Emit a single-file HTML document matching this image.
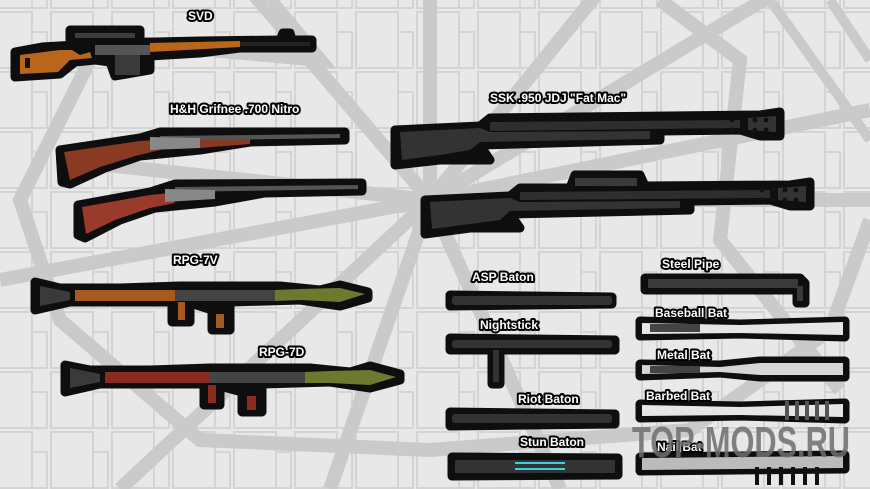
<!DOCTYPE html><html><head><meta charset="utf-8"><style>
html,body{margin:0;padding:0;background:#e8e8e8}
svg{display:block}
text{font-family:"Liberation Sans","DejaVu Sans",sans-serif;font-weight:bold;font-size:12px;fill:#fff;stroke:#000;stroke-width:4px;paint-order:stroke;stroke-linejoin:round}
.o{stroke:#0e0e0e;stroke-width:9;stroke-linejoin:round;stroke-linecap:round}
</style></head><body>
<svg width="870" height="489" viewBox="0 0 870 489" xmlns="http://www.w3.org/2000/svg">
<defs>
<pattern id="mz" width="61" height="60" patternUnits="userSpaceOnUse" x="-12" y="10">
<path d="M2 2h42v20h15v36H2z M44 22v36" fill="none" stroke="#d4d4d4" stroke-width="2"/>
</pattern>
</defs>
<rect width="870" height="489" fill="#e8e8e8"/>
<rect width="870" height="489" fill="url(#mz)"/>
<g stroke="#cacaca" stroke-width="14" fill="none">
<path d="M430 200 L430 -10 M430 200 L250 -10 M430 200 L60 160 M430 200 L0 280 M430 200 L120 489 M430 200 L330 489 M430 200 L560 489 M430 200 L870 200 M430 200 L870 110 M430 200 L780 -10 M430 200 L600 -10"/>
<path d="M270 0 L320 60 L100 40 L20 200 L60 320 L200 440 L430 450 L690 430 L830 330 L870 220 M660 0 L740 60 L720 240 L840 390"/>
</g>
<g stroke="#cacaca" stroke-width="10" fill="none"><path d="M770 0 L870 140 M830 0 L870 60"/></g>

<!-- SVD -->
<g>
<path class="o" d="M15 52 L42 47 L110 43 L155 42 L200 41 L280 40 L283 33 L290 33 L292 40 L312 40 L312 48 L240 48 L200 53 L150 56 L150 70 L115 76 L110 62 L95 60 L75 62 L60 74 L15 77 Z M70 30 L140 30 L140 40 L70 40Z" fill="#0e0e0e"/>
<path d="M20 55 L60 50 L72 50 L80 55 L90 52 L92 58 L70 60 L58 72 L20 74 Z" fill="#b9661c"/>
<rect x="25" y="58" width="5" height="10" fill="#111"/>
<path d="M150 43 L240 41 L240 47 L150 52 Z" fill="#b9661c"/>
<rect x="95" y="45" width="55" height="10" fill="#555"/>
<rect x="115" y="55" width="25" height="20" fill="#3a3a3a"/>
<rect x="75" y="33" width="60" height="5" fill="#3d3d3d"/>
<rect x="240" y="42" width="70" height="4" fill="#222"/>
</g>

<!-- H&H double rifles -->
<g>
<path class="o" d="M60 150 L140 138 L160 132 L345 132 L345 140 L250 142 L200 150 L140 156 L105 168 L70 184 L62 182 Z" fill="#0e0e0e"/>
<path d="M64 152 L140 141 L155 140 L160 150 L135 156 L100 167 L70 180 Z" fill="#8a3a22"/>
<path d="M160 136 L340 134 L340 138 L160 141 Z" fill="#555"/>
<path d="M150 137 L200 138 L200 148 L150 150Z" fill="#888"/>
<path d="M200 140 L250 139 L250 144 L200 148 Z" fill="#8a3a22"/>
<path class="o" d="M78 205 L150 192 L175 184 L362 183 L362 191 L265 193 L215 202 L155 208 L120 220 L85 238 L78 235 Z" fill="#0e0e0e"/>
<path d="M82 207 L150 195 L170 193 L175 203 L150 208 L115 220 L86 234 Z" fill="#9a3a2a"/>
<path d="M175 187 L358 185 L358 189 L175 192 Z" fill="#555"/>
<path d="M165 189 L215 190 L215 199 L165 202Z" fill="#888"/>
</g>

<!-- Fat Mac -->
<g>
<path class="o" d="M395 130 L480 126 L490 118 L760 115 L780 112 L780 136 L760 136 L740 130 L660 131 L660 140 L480 145 L490 160 L440 160 L395 165 Z" fill="#0e0e0e"/>
<path d="M400 132 L480 128 L490 132 L650 131 L650 139 L480 142 L470 150 L440 155 L402 160 Z" fill="#333"/>
<path d="M490 122 L740 120 L740 128 L490 131 Z" fill="#2e2e2e"/>
<path d="M748 118 L776 116 L776 132 L748 130 Z" fill="#333"/>
<g fill="#111"><circle cx="732" cy="120" r="2.5"/><circle cx="744" cy="120" r="2.5"/><circle cx="755" cy="120" r="2.5"/><circle cx="766" cy="120" r="2.5"/><circle cx="732" cy="130" r="2.5"/><circle cx="744" cy="130" r="2.5"/><circle cx="755" cy="130" r="2.5"/><circle cx="766" cy="130" r="2.5"/></g>
<path class="o" d="M425 200 L510 196 L520 188 L570 188 L575 175 L640 175 L645 186 L790 185 L810 182 L810 206 L790 206 L770 200 L690 201 L690 210 L510 214 L520 228 L470 228 L425 234 Z" fill="#0e0e0e"/>
<path d="M430 202 L510 198 L520 202 L680 201 L680 208 L510 211 L500 220 L470 224 L432 229 Z" fill="#333"/>
<path d="M520 192 L770 190 L770 198 L520 200 Z" fill="#2e2e2e"/>
<rect x="575" y="178" width="62" height="8" fill="#3a3a3a"/>
<path d="M778 188 L806 186 L806 202 L778 200 Z" fill="#333"/>
<g fill="#111"><circle cx="762" cy="190" r="2.5"/><circle cx="774" cy="190" r="2.5"/><circle cx="785" cy="190" r="2.5"/><circle cx="796" cy="190" r="2.5"/><circle cx="762" cy="200" r="2.5"/><circle cx="774" cy="200" r="2.5"/><circle cx="785" cy="200" r="2.5"/><circle cx="796" cy="200" r="2.5"/></g>
</g>

<!-- RPG-7V -->
<g>
<path class="o" d="M35 282 L60 288 L120 288 L180 286 L280 286 L320 290 L340 285 L368 292 L368 298 L340 306 L300 300 L230 302 L230 330 L212 330 L212 310 L190 303 L190 322 L172 322 L172 302 L70 302 L35 310 Z" fill="#0e0e0e"/>
<path d="M40 286 L70 292 L70 300 L40 306Z" fill="#3a3a3a"/>
<rect x="75" y="290" width="100" height="11" fill="#a55a22"/>
<rect x="175" y="290" width="100" height="11" fill="#444"/>
<path d="M275 290 L300 289 L340 288 L365 294 L340 302 L300 300 L275 301Z" fill="#6b7a2f"/>
<rect x="178" y="302" width="7" height="18" fill="#a55a22"/>
<rect x="216" y="314" width="8" height="14" fill="#a55a22"/>
</g>
<!-- RPG-7D -->
<g>
<path class="o" d="M65 365 L90 370 L150 370 L210 368 L310 368 L350 372 L370 366 L400 374 L400 380 L370 388 L330 382 L262 384 L262 412 L242 412 L242 392 L220 386 L220 405 L204 405 L204 384 L100 384 L65 392 Z" fill="#0e0e0e"/>
<path d="M70 368 L100 374 L100 382 L70 388Z" fill="#3a3a3a"/>
<rect x="105" y="372" width="105" height="11" fill="#8a2a20"/>
<rect x="210" y="372" width="95" height="11" fill="#444"/>
<path d="M305 372 L330 371 L370 370 L396 377 L370 385 L330 383 L305 383Z" fill="#6b7a2f"/>
<rect x="208" y="385" width="8" height="18" fill="#8a2a20"/>
<rect x="247" y="396" width="9" height="14" fill="#8a2a20"/>
</g>

<!-- Batons -->
<g>
<path class="o" d="M450 295 L612 297 L612 304 L450 306Z" fill="#0e0e0e"/>
<rect x="452" y="296" width="160" height="9" rx="3" fill="#333"/>
<path class="o" d="M450 338 L615 340 L615 350 L500 350 L500 384 L492 384 L492 350 L450 350Z" fill="#0e0e0e"/>
<rect x="452" y="340" width="160" height="8" rx="3" fill="#333"/>
<rect x="493" y="350" width="6" height="32" fill="#333"/>
<path class="o" d="M450 412 L615 414 L615 424 L450 426Z" fill="#0e0e0e"/>
<rect x="452" y="414" width="160" height="9" rx="3" fill="#333"/>
<path class="o" d="M452 457 L618 458 L618 475 L452 476Z" fill="#0e0e0e"/>
<rect x="455" y="460" width="160" height="13" fill="#333"/>
<rect x="515" y="462" width="50" height="2" fill="#3bd1e0"/><rect x="515" y="468" width="50" height="2" fill="#3bd1e0"/>
</g>
<!-- bats -->
<g>
<path class="o" d="M645 278 L800 278 L805 283 L805 303 L797 303 L797 290 L645 290Z" fill="#0e0e0e"/>
<rect x="648" y="279" width="150" height="9" fill="#3a3a3a"/>
<rect x="797" y="286" width="6" height="15" fill="#3a3a3a"/>
<path class="o" d="M640 321 L740 324 L845 321 L845 337 L740 334 L640 336Z" fill="#0e0e0e"/>
<path d="M642 323 L740 325 L843 322 L843 335 L740 333 L642 334Z" fill="#e6e6e6"/>
<rect x="650" y="324" width="50" height="8" fill="#444"/>
<path class="o" d="M640 364 L720 365 L760 361 L845 361 L845 377 L760 377 L720 373 L640 376Z" fill="#0e0e0e"/>
<path d="M642 365 L720 367 L760 363 L843 363 L843 375 L760 375 L720 372 L642 374Z" fill="#d6d6d6"/>
<rect x="650" y="366" width="50" height="7" fill="#444"/>
<path class="o" d="M640 404 L740 406 L845 403 L845 419 L740 416 L640 418Z" fill="#0e0e0e"/>
<path d="M642 405 L740 407 L843 404 L843 417 L740 415 L642 416Z" fill="#e6e6e6"/>
<g fill="#555"><rect x="785" y="401" width="4" height="19"/><rect x="795" y="401" width="4" height="19"/><rect x="805" y="401" width="4" height="19"/><rect x="815" y="401" width="4" height="19"/><rect x="825" y="401" width="4" height="19"/></g>
<path class="o" d="M640 457 L845 455 L845 469 L640 471Z" fill="#0e0e0e"/>
<path d="M642 458 L843 456 L843 468 L642 470Z" fill="#bbb"/>
<g fill="#111"><rect x="755" y="467" width="4" height="18"/><rect x="767" y="467" width="4" height="18"/><rect x="779" y="467" width="4" height="18"/><rect x="791" y="467" width="4" height="18"/><rect x="803" y="467" width="4" height="18"/><rect x="815" y="467" width="4" height="18"/></g>
</g>

<!-- labels -->
<text x="188" y="20">SVD</text>
<text x="170" y="113">H&amp;H Grifnee .700 Nitro</text>
<text x="490" y="102">SSK .950 JDJ "Fat Mac"</text>
<text x="173" y="264">RPG-7V</text>
<text x="259" y="356">RPG-7D</text>
<text x="472" y="281">ASP Baton</text>
<text x="480" y="329">Nightstick</text>
<text x="518" y="403">Riot Baton</text>
<text x="520" y="446">Stun Baton</text>
<text x="662" y="268">Steel Pipe</text>
<text x="655" y="317">Baseball Bat</text>
<text x="657" y="359">Metal Bat</text>
<text x="646" y="400">Barbed Bat</text>
<text x="657" y="451">Nail Bat</text>
<text x="632" y="457" textLength="218" lengthAdjust="spacingAndGlyphs" style="font-size:44px;fill:#6e6e6e;stroke:none;opacity:.85;font-family:'Liberation Sans',sans-serif">TOP-MODS.RU</text>
</svg>
</body></html>
